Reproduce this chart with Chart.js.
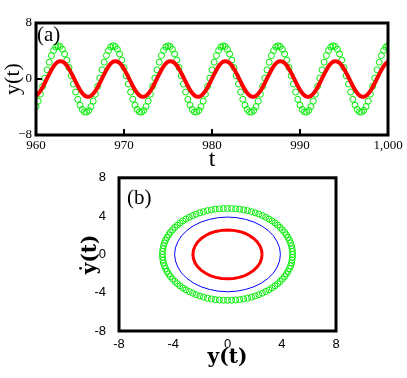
<!DOCTYPE html>
<html>
<head>
<meta charset="utf-8">
<script src="https://cdn.jsdelivr.net/npm/chart.js@4.4.1/dist/chart.umd.min.js"></script>
<style>
  body { margin: 0; background: #fff; }
  #wrap { position: relative; width: 407px; height: 378px; }
  canvas { position: absolute; left: 0; }
  #chartA { top: 0; }
  #chartB { top: 170px; }
</style>
</head>
<body>
<div id="wrap">
  <canvas id="chartA" width="407" height="172"></canvas>
  <canvas id="chartB" width="407" height="208"></canvas>
</div>
<script>
// (a) time series, t from 960 to 1000
const tValues = [
  960, 960.25, 960.5, 960.75, 961, 961.25, 961.5, 961.75,
  962, 962.25, 962.5, 962.75, 963, 963.25, 963.5, 963.75,
  964, 964.25, 964.5, 964.75, 965, 965.25, 965.5, 965.75,
  966, 966.25, 966.5, 966.75, 967, 967.25, 967.5, 967.75,
  968, 968.25, 968.5, 968.75, 969, 969.25, 969.5, 969.75,
  970, 970.25, 970.5, 970.75, 971, 971.25, 971.5, 971.75,
  972, 972.25, 972.5, 972.75, 973, 973.25, 973.5, 973.75,
  974, 974.25, 974.5, 974.75, 975, 975.25, 975.5, 975.75,
  976, 976.25, 976.5, 976.75, 977, 977.25, 977.5, 977.75,
  978, 978.25, 978.5, 978.75, 979, 979.25, 979.5, 979.75,
  980, 980.25, 980.5, 980.75, 981, 981.25, 981.5, 981.75,
  982, 982.25, 982.5, 982.75, 983, 983.25, 983.5, 983.75,
  984, 984.25, 984.5, 984.75, 985, 985.25, 985.5, 985.75,
  986, 986.25, 986.5, 986.75, 987, 987.25, 987.5, 987.75,
  988, 988.25, 988.5, 988.75, 989, 989.25, 989.5, 989.75,
  990, 990.25, 990.5, 990.75, 991, 991.25, 991.5, 991.75,
  992, 992.25, 992.5, 992.75, 993, 993.25, 993.5, 993.75,
  994, 994.25, 994.5, 994.75, 995, 995.25, 995.5, 995.75,
  996, 996.25, 996.5, 996.75, 997, 997.25, 997.5, 997.75,
  998, 998.25, 998.5, 998.75, 999, 999.25, 999.5, 999.75,
  1000
];

// red response (solid line)
const redY = [
  -2.40, -2.11, -1.69, -1.17, -0.57, 0.07, 0.70, 1.29, 1.80, 2.19, 2.45, 2.55, 2.49, 2.28, 1.92, 1.44, 0.87, 0.25, -0.39, -1.00, -1.55, -2.01, -2.34, -2.52, -2.54,
  -2.40, -2.11, -1.69, -1.17, -0.57, 0.07, 0.70, 1.29, 1.80, 2.19, 2.45, 2.55, 2.49, 2.28, 1.92, 1.44, 0.87, 0.25, -0.39, -1.00, -1.55, -2.01, -2.34, -2.52, -2.54,
  -2.40, -2.11, -1.69, -1.17, -0.57, 0.07, 0.70, 1.29, 1.80, 2.19, 2.45, 2.55, 2.49, 2.28, 1.92, 1.44, 0.87, 0.25, -0.39, -1.00, -1.55, -2.01, -2.34, -2.52, -2.54,
  -2.40, -2.11, -1.69, -1.17, -0.57, 0.07, 0.70, 1.29, 1.80, 2.19, 2.45, 2.55, 2.49, 2.28, 1.92, 1.44, 0.87, 0.25, -0.39, -1.00, -1.55, -2.01, -2.34, -2.52, -2.54,
  -2.40, -2.11, -1.69, -1.17, -0.57, 0.07, 0.70, 1.29, 1.80, 2.19, 2.45, 2.55, 2.49, 2.28, 1.92, 1.44, 0.87, 0.25, -0.39, -1.00, -1.55, -2.01, -2.34, -2.52, -2.54,
  -2.40, -2.11, -1.69, -1.17, -0.57, 0.07, 0.70, 1.29, 1.80, 2.19, 2.45, 2.55, 2.49, 2.28, 1.92, 1.44, 0.87, 0.25, -0.39, -1.00, -1.55, -2.01, -2.34, -2.52, -2.54,
  -2.40, -2.11, -1.69, -1.17, -0.57, 0.07, 0.70, 1.29, 1.80, 2.19, 2.45
];

// green response (open circles)
const greenY = [
  -3.94, -3.16, -2.17, -1.05, 0.13, 1.31, 2.40, 3.35, 4.08, 4.56, 4.75, 4.64, 4.24, 3.58, 2.69, 1.63, 0.47, -0.72, -1.87, -2.90, -3.74, -4.35, -4.69, -4.73, -4.48,
  -3.94, -3.16, -2.17, -1.05, 0.13, 1.31, 2.40, 3.35, 4.08, 4.56, 4.75, 4.64, 4.24, 3.58, 2.69, 1.63, 0.47, -0.72, -1.87, -2.90, -3.74, -4.35, -4.69, -4.73, -4.48,
  -3.94, -3.16, -2.17, -1.05, 0.13, 1.31, 2.40, 3.35, 4.08, 4.56, 4.75, 4.64, 4.24, 3.58, 2.69, 1.63, 0.47, -0.72, -1.87, -2.90, -3.74, -4.35, -4.69, -4.73, -4.48,
  -3.94, -3.16, -2.17, -1.05, 0.13, 1.31, 2.40, 3.35, 4.08, 4.56, 4.75, 4.64, 4.24, 3.58, 2.69, 1.63, 0.47, -0.72, -1.87, -2.90, -3.74, -4.35, -4.69, -4.73, -4.48,
  -3.94, -3.16, -2.17, -1.05, 0.13, 1.31, 2.40, 3.35, 4.08, 4.56, 4.75, 4.64, 4.24, 3.58, 2.69, 1.63, 0.47, -0.72, -1.87, -2.90, -3.74, -4.35, -4.69, -4.73, -4.48,
  -3.94, -3.16, -2.17, -1.05, 0.13, 1.31, 2.40, 3.35, 4.08, 4.56, 4.75, 4.64, 4.24, 3.58, 2.69, 1.63, 0.47, -0.72, -1.87, -2.90, -3.74, -4.35, -4.69, -4.73, -4.48,
  -3.94, -3.16, -2.17, -1.05, 0.13, 1.31, 2.40, 3.35, 4.08, 4.56, 4.75
];

const tTicks = [960, 970, 980, 990, 1000];
const yTicksA = [-8, 0, 8];

// (b) phase portrait: y(t) vs dy/dt
const ringY = [
  4.80, 4.79, 4.76, 4.72, 4.65, 4.57, 4.46, 4.34, 4.21, 4.05, 3.88, 3.70, 3.50, 3.29, 3.06, 2.82, 2.57, 2.31, 2.04, 1.77, 1.48, 1.19, 0.90, 0.60, 0.30, 0,
  -0.30, -0.60, -0.90, -1.19, -1.48, -1.77, -2.04, -2.31, -2.57, -2.82, -3.06, -3.29, -3.50, -3.70, -3.88, -4.05, -4.21, -4.34, -4.46, -4.57, -4.65, -4.72, -4.76, -4.79, -4.80,
  -4.79, -4.76, -4.72, -4.65, -4.57, -4.46, -4.34, -4.21, -4.05, -3.88, -3.70, -3.50, -3.29, -3.06, -2.82, -2.57, -2.31, -2.04, -1.77, -1.48, -1.19, -0.90, -0.60, -0.30, 0,
  0.30, 0.60, 0.90, 1.19, 1.48, 1.77, 2.04, 2.31, 2.57, 2.82, 3.06, 3.29, 3.50, 3.70, 3.88, 4.05, 4.21, 4.34, 4.46, 4.57, 4.65, 4.72, 4.76, 4.79
];
const ringV = [
  0, 0.30, 0.60, 0.90, 1.19, 1.48, 1.77, 2.04, 2.31, 2.57, 2.82, 3.06, 3.29, 3.50, 3.70, 3.88, 4.05, 4.21, 4.34, 4.46, 4.57, 4.65, 4.72, 4.76, 4.79, 4.80,
  4.79, 4.76, 4.72, 4.65, 4.57, 4.46, 4.34, 4.21, 4.05, 3.88, 3.70, 3.50, 3.29, 3.06, 2.82, 2.57, 2.31, 2.04, 1.77, 1.48, 1.19, 0.90, 0.60, 0.30, 0,
  -0.30, -0.60, -0.90, -1.19, -1.48, -1.77, -2.04, -2.31, -2.57, -2.82, -3.06, -3.29, -3.50, -3.70, -3.88, -4.05, -4.21, -4.34, -4.46, -4.57, -4.65, -4.72, -4.76, -4.79, -4.80,
  -4.79, -4.76, -4.72, -4.65, -4.57, -4.46, -4.34, -4.21, -4.05, -3.88, -3.70, -3.50, -3.29, -3.06, -2.82, -2.57, -2.31, -2.04, -1.77, -1.48, -1.19, -0.90, -0.60, -0.30
];

const blueY = [3.90, 3.84, 3.66, 3.38, 2.99, 2.51, 1.95, 1.33, 0.68, 0, -0.68, -1.33, -1.95, -2.51, -2.99, -3.38, -3.66, -3.84, -3.90,
  -3.84, -3.66, -3.38, -2.99, -2.51, -1.95, -1.33, -0.68, 0, 0.68, 1.33, 1.95, 2.51, 2.99, 3.38, 3.66, 3.84, 3.90];
const blueV = [0, 0.68, 1.33, 1.95, 2.51, 2.99, 3.38, 3.66, 3.84, 3.90, 3.84, 3.66, 3.38, 2.99, 2.51, 1.95, 1.33, 0.68, 0,
  -0.68, -1.33, -1.95, -2.51, -2.99, -3.38, -3.66, -3.84, -3.90, -3.84, -3.66, -3.38, -2.99, -2.51, -1.95, -1.33, -0.68, 0];

const redPhaseY = [2.55, 2.51, 2.40, 2.21, 1.95, 1.64, 1.28, 0.87, 0.44, 0, -0.44, -0.87, -1.28, -1.64, -1.95, -2.21, -2.40, -2.51, -2.55,
  -2.51, -2.40, -2.21, -1.95, -1.64, -1.28, -0.87, -0.44, 0, 0.44, 0.87, 1.28, 1.64, 1.95, 2.21, 2.40, 2.51, 2.55];
const redPhaseV = [0, 0.44, 0.87, 1.28, 1.64, 1.95, 2.21, 2.40, 2.51, 2.55, 2.51, 2.40, 2.21, 1.95, 1.64, 1.28, 0.87, 0.44, 0,
  -0.44, -0.87, -1.28, -1.64, -1.95, -2.21, -2.40, -2.51, -2.55, -2.51, -2.40, -2.21, -1.95, -1.64, -1.28, -0.87, -0.44, 0];

const phaseTicks = [-8, -4, 0, 4, 8];

const SERIF = "'Liberation Serif', 'DejaVu Serif', serif";
const SERIF_WIDE = "'DejaVu Serif', serif";
const SANS = "'Liberation Sans', 'DejaVu Sans', sans-serif";

// thick box around the plot, inner ticks and the panel letter
const framePlugin = {
  id: "frame",
  afterDraw(chart, args, opts) {
    const { ctx, chartArea: a } = chart;
    ctx.save();
    ctx.strokeStyle = "#000";
    ctx.lineWidth = 3;
    ctx.strokeRect(a.left, a.top, a.right - a.left, a.bottom - a.top);
    if (opts.innerX) {
      ctx.lineWidth = 2;
      opts.innerX.forEach((v) => {
        const px = chart.scales.x.getPixelForValue(v);
        ctx.beginPath();
        ctx.moveTo(px, a.bottom);
        ctx.lineTo(px, a.bottom - 6);
        ctx.stroke();
      });
      opts.innerY.forEach((v) => {
        const py = chart.scales.y.getPixelForValue(v);
        ctx.beginPath();
        ctx.moveTo(a.left, py);
        ctx.lineTo(a.left + 6, py);
        ctx.stroke();
      });
    }
    ctx.fillStyle = "#000";
    ctx.font = "21px " + SERIF;
    ctx.textBaseline = "alphabetic";
    ctx.fillText(opts.label, a.left + opts.dx, a.top + opts.dy);
    ctx.restore();
  },
};

const toPoints = (xs, ys) => xs.map((x, i) => ({ x: x, y: ys[i] }));

// grid hidden, but its tickLength still sets the gap between axis and labels
const hiddenGrid = (len) => ({ display: false, drawTicks: true, tickLength: len });

new Chart(document.getElementById("chartA"), {
  type: "scatter",
  plugins: [framePlugin],
  data: {
    datasets: [
      {
        data: toPoints(tValues, redY),
        showLine: true,
        borderColor: "#ff0000",
        borderWidth: 4,
        pointRadius: 0,
        tension: 0.3,
      },
      {
        data: toPoints(tValues, greenY),
        showLine: false,
        pointStyle: "circle",
        pointRadius: 3,
        borderColor: "#00ee00",
        borderWidth: 1,
        backgroundColor: "rgba(0,0,0,0)",
      },
    ],
  },
  options: {
    responsive: false,
    animation: false,
    locale: "en-US",
    layout: { padding: { top: 23, right: 19, left: 0, bottom: 0 } },
    plugins: {
      legend: { display: false },
      tooltip: { enabled: false },
      frame: { label: "(a)", dx: 1, dy: 18, innerX: [970, 980, 990], innerY: [0] },
    },
    scales: {
      x: {
        type: "linear",
        min: 960,
        max: 1000,
        afterBuildTicks: (s) => { s.ticks = tTicks.map((v) => ({ value: v })); },
        afterFit: (s) => { s.height = 37; },
        grid: hiddenGrid(3),
        border: { display: false },
        ticks: { color: "#000", font: { family: SERIF, size: 13 }, padding: 0, maxRotation: 0 },
        title: { display: true, text: "t", color: "#000", font: { family: SERIF, size: 24, lineHeight: 1 }, padding: { top: 0, bottom: 0 } },
      },
      y: {
        min: -8,
        max: 8,
        afterBuildTicks: (s) => { s.ticks = yTicksA.map((v) => ({ value: v })); },
        afterFit: (s) => { s.width = 36; },
        grid: hiddenGrid(4),
        border: { display: false },
        ticks: {
          color: "#000",
          font: { family: SERIF, size: 13 },
          padding: 0,
          callback: (v) => (v < 0 ? "\u2212" + Math.abs(v) : String(v)),
        },
        title: { display: true, text: "y(t)", color: "#000", font: { family: SERIF, size: 22, lineHeight: 1 }, padding: { top: 2, bottom: 0 } },
      },
    },
  },
});

new Chart(document.getElementById("chartB"), {
  type: "scatter",
  plugins: [framePlugin],
  data: {
    datasets: [
      {
        data: toPoints(redPhaseY, redPhaseV),
        showLine: true,
        borderColor: "#ff0000",
        borderWidth: 3,
        pointRadius: 0,
      },
      {
        data: toPoints(blueY, blueV),
        showLine: true,
        borderColor: "#0000ff",
        borderWidth: 1,
        pointRadius: 0,
      },
      {
        data: toPoints(ringY, ringV),
        showLine: false,
        pointStyle: "circle",
        pointRadius: 3,
        borderColor: "#00ee00",
        borderWidth: 1,
        backgroundColor: "rgba(0,0,0,0)",
      },
    ],
  },
  options: {
    responsive: false,
    animation: false,
    layout: { padding: { top: 6, right: 71, left: 0, bottom: 0 } },
    plugins: {
      legend: { display: false },
      tooltip: { enabled: false },
      frame: { label: "(b)", dx: 8, dy: 26 },
    },
    scales: {
      x: {
        type: "linear",
        min: -8,
        max: 8,
        afterBuildTicks: (s) => { s.ticks = phaseTicks.map((v) => ({ value: v })); },
        afterFit: (s) => { s.height = 47; },
        grid: hiddenGrid(6),
        border: { display: false },
        ticks: { color: "#000", font: { family: SANS, size: 13 }, padding: 0, maxRotation: 0 },
        title: { display: true, text: "y(t)", color: "#000", font: { family: SERIF_WIDE, size: 20, weight: "bold", lineHeight: 1 }, padding: { top: 0, bottom: 10 } },
      },
      y: {
        min: -8,
        max: 8,
        afterBuildTicks: (s) => { s.ticks = phaseTicks.map((v) => ({ value: v })); },
        afterFit: (s) => { s.width = 119; },
        grid: hiddenGrid(13),
        border: { display: false },
        ticks: { color: "#000", font: { family: SANS, size: 13 }, padding: 0 },
        title: { display: true, text: "\u1E8F(t)", color: "#000", font: { family: SERIF_WIDE, size: 20, weight: "bold", lineHeight: 1 }, padding: { top: 81, bottom: 0 } },
      },
    },
  },
});
</script>
</body>
</html>
